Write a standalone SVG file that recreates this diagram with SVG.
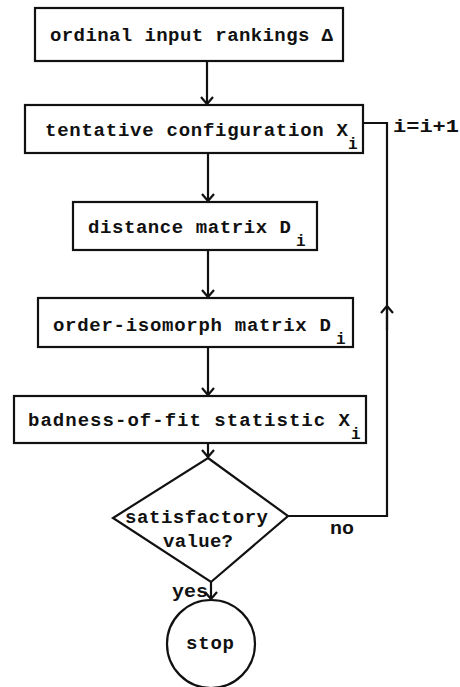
<svg xmlns="http://www.w3.org/2000/svg" width="460" height="687" viewBox="0 0 460 687">
  <style>
    .box { fill: #fff; stroke: #111; stroke-width: 2.2; }
    .line { fill: none; stroke: #111; stroke-width: 2.2; }
    .t { font-family: "Liberation Mono", "Courier New", monospace; font-size: 19px; font-weight: bold; fill: #111; }
    .sub { font-family: "Liberation Mono", "Courier New", monospace; font-size: 16px; font-weight: bold; fill: #111; }
  </style>
  <defs>
    <marker id="chev" markerUnits="userSpaceOnUse" markerWidth="20" markerHeight="20" viewBox="-10 -10 20 20" refX="0" refY="0" orient="auto">
      <path d="M -7 -6 L 0 0 L -7 6" fill="none" stroke="#111" stroke-width="2.2"/>
    </marker>
  </defs>
  <rect width="460" height="687" fill="#fff"/>

  <!-- connectors -->
  <g id="connectors">
    <line class="line" x1="207" y1="61" x2="207" y2="104" marker-end="url(#chev)"/>
    <line class="line" x1="208" y1="153" x2="208" y2="201" marker-end="url(#chev)"/>
    <line class="line" x1="208" y1="250" x2="208" y2="297" marker-end="url(#chev)"/>
    <line class="line" x1="208" y1="347" x2="208" y2="395" marker-end="url(#chev)"/>
    <line class="line" x1="208" y1="443" x2="208" y2="457" marker-end="url(#chev)"/>
    <line class="line" x1="211" y1="582" x2="211" y2="599" marker-end="url(#chev)"/>
    <!-- loop back: "no" branch up to the configuration step -->
    <polyline class="line" points="288,516 387,516 387,123 363,123"/>
    <line class="line" x1="387" y1="330" x2="387" y2="306" marker-end="url(#chev)"/>
    <text class="t" x="330" y="534" textLength="24" lengthAdjust="spacingAndGlyphs">no</text>
    <text class="t" x="172" y="597" textLength="36" lengthAdjust="spacingAndGlyphs">yes</text>
    <text class="t" x="393" y="132" textLength="66" lengthAdjust="spacingAndGlyphs">i=i+1</text>
  </g>

  <g id="rankings">
    <rect class="box" x="35" y="8" width="308" height="53"/>
    <text class="t" x="50" y="41" textLength="283" lengthAdjust="spacing">ordinal input rankings Δ</text>
  </g>

  <g id="configuration">
    <rect class="box" x="25" y="105" width="338" height="48"/>
    <text class="t" x="45" y="136" textLength="303" lengthAdjust="spacing">tentative configuration X</text>
    <text class="sub" x="348" y="149">i</text>
  </g>

  <g id="distance">
    <rect class="box" x="73" y="202" width="244" height="48"/>
    <text class="t" x="88" y="233" textLength="203" lengthAdjust="spacing">distance matrix D</text>
    <text class="sub" x="296" y="246">i</text>
  </g>

  <g id="order-isomorph">
    <rect class="box" x="38" y="298" width="315" height="49"/>
    <text class="t" x="53" y="331" textLength="278" lengthAdjust="spacing">order-isomorph matrix D</text>
    <text class="sub" x="336" y="344">i</text>
  </g>

  <g id="badness">
    <rect class="box" x="14" y="396" width="352" height="47"/>
    <text class="t" x="28" y="426" textLength="322" lengthAdjust="spacing">badness-of-fit statistic X</text>
    <text class="sub" x="351" y="439">i</text>
  </g>

  <g id="decision">
    <polygon class="box" points="208,458 288,516 211,582 113,518"/>
    <text class="t" x="125" y="523" textLength="143" lengthAdjust="spacing">satisfactory</text>
    <text class="t" x="163" y="547" textLength="70" lengthAdjust="spacing">value?</text>
  </g>

  <g id="stop">
    <circle class="box" cx="211" cy="644" r="44"/>
    <text class="t" x="186" y="649" textLength="48" lengthAdjust="spacing">stop</text>
  </g>
</svg>
